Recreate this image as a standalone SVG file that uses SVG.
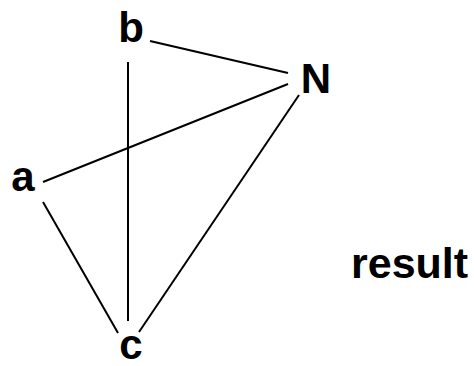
<svg xmlns="http://www.w3.org/2000/svg" width="474" height="366" viewBox="0 0 474 366">
<style>
.lbl{font-family:"Liberation Sans",Arial,sans-serif;font-weight:bold;font-size:42px;fill:#000;text-anchor:middle}
.res{font-family:"Liberation Sans",Arial,sans-serif;font-weight:bold;font-size:43px;fill:#000}
.e{stroke:#000;stroke-width:2;fill:none}
</style>
<rect width="474" height="366" fill="#fff"/>
<g id="connectors">
<line class="e" x1="150" y1="41" x2="288" y2="73"/>
<line class="e" x1="43" y1="182" x2="288" y2="84"/>
<line class="e" x1="128" y1="62" x2="128" y2="321"/>
<line class="e" x1="43" y1="202" x2="118" y2="333"/>
<line class="e" x1="299" y1="95" x2="139" y2="332"/>
</g>
<g id="node-b"><text class="lbl" x="131" y="42">b</text></g>
<g id="node-N"><text class="lbl" x="316" y="93">N</text></g>
<g id="node-a"><text class="lbl" x="23" y="191">a</text></g>
<g id="node-c"><text class="lbl" x="131" y="359">c</text></g>
<g id="result"><text class="res" x="351" y="278">result</text></g>
</svg>
